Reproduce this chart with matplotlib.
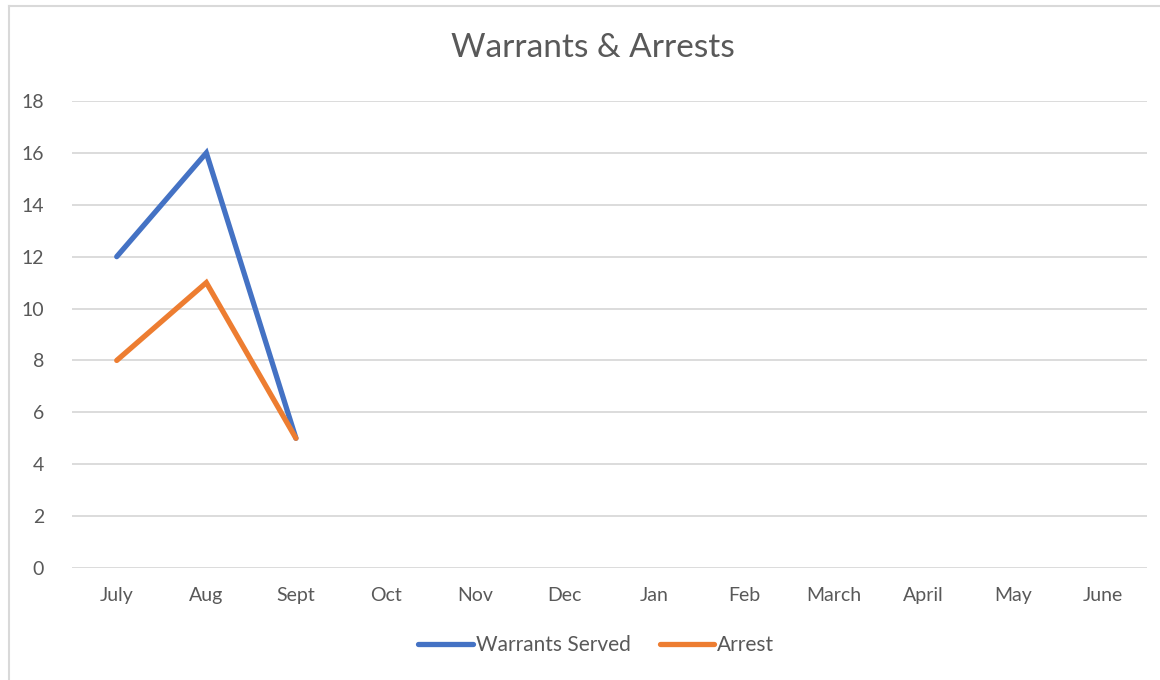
import matplotlib
matplotlib.use("Agg")
import matplotlib.pyplot as plt
from matplotlib.lines import Line2D

months = ["July", "Aug", "Sept", "Oct", "Nov", "Dec", "Jan", "Feb",
          "March", "April", "May", "June"]
warrants_served = [12, 16, 5]
arrests = [8, 11, 5]

plt.rcParams['font.family'] = ['Lato', 'DejaVu Sans']
txt = "#595959"

fig = plt.figure(figsize=(11.6, 6.8), dpi=100)
ax = fig.add_axes([0.062, 0.1647, 0.927, 0.6868])

x = range(len(months))
ax.plot(x[:len(warrants_served)], warrants_served, color="#4472C4", lw=3.8,
        label="Warrants Served", solid_capstyle="round", solid_joinstyle="miter")
ax.plot(x[:len(arrests)], arrests, color="#ED7D31", lw=3.8,
        label="Arrest", solid_capstyle="round", solid_joinstyle="miter")

ax.set_xlim(-0.5, len(months) - 0.5)
ax.set_ylim(0, 18)
ax.set_yticks(range(0, 19, 2))
ax.set_xticks(list(x))
ax.set_xticklabels(months)
ax.tick_params(axis="both", length=0, labelsize=14, colors=txt)
ax.tick_params(axis="y", pad=20)
ax.tick_params(axis="x", pad=14)
ax.grid(axis="y", color="#D9D9D9", lw=1.3)
ax.set_axisbelow(True)
for s in ax.spines.values():
    s.set_visible(False)

fig.text(0.511, 0.929, "Warrants & Arrests", ha="center", va="center",
         fontsize=24, color=txt)

leg = fig.legend(loc="center", bbox_to_anchor=(0.514, 0.051), ncol=2,
                 frameon=False, fontsize=15, handlelength=2.6,
                 handletextpad=0.15, columnspacing=1.4, labelcolor=txt)

# chart frame
fig.add_artist(Line2D([0.0078, 0.0078], [0.0, 0.991], color="#D9D9D9", lw=1.5,
                      transform=fig.transFigure))
fig.add_artist(Line2D([0.0078, 1.0], [0.991, 0.991], color="#D9D9D9", lw=1.5,
                      transform=fig.transFigure))

fig.savefig("out.png", dpi=100, facecolor="white")
